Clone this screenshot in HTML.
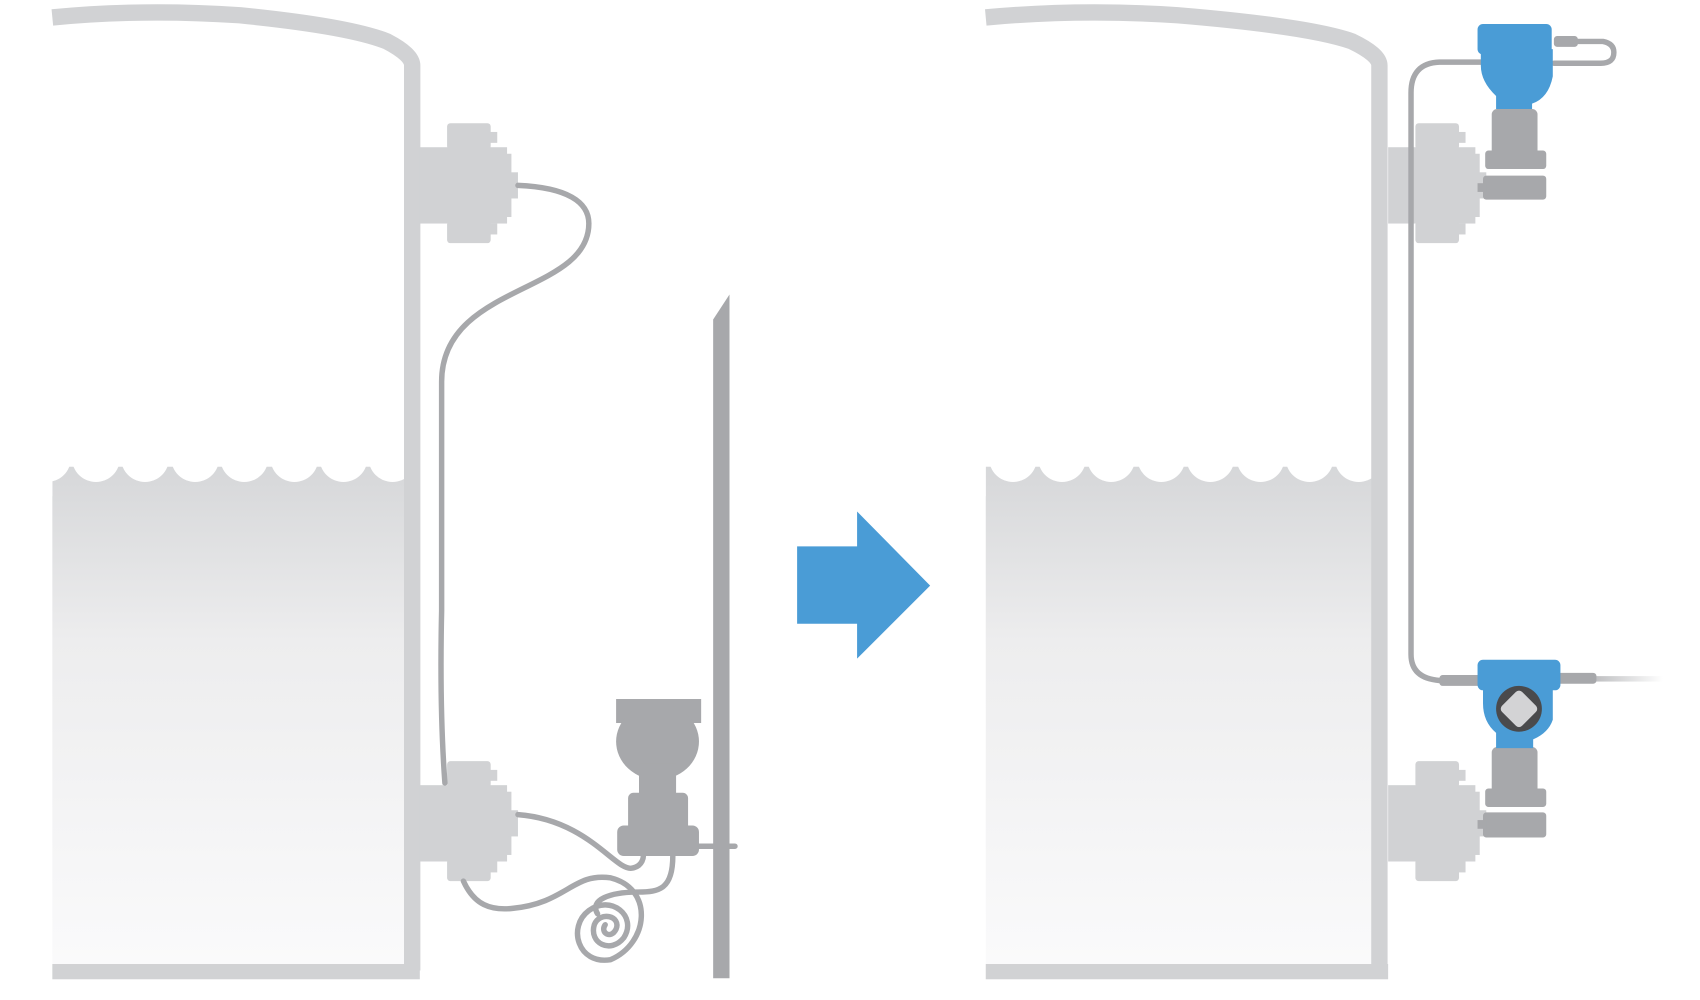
<!DOCTYPE html>
<html><head><meta charset="utf-8"><style>html,body{margin:0;padding:0;background:#fff}svg{display:block}</style></head>
<body>
<svg width="1700" height="1000" viewBox="0 0 1559 917" preserveAspectRatio="none" xmlns="http://www.w3.org/2000/svg">
<defs>
<linearGradient id="liq" x1="0" y1="0" x2="0" y2="1">
<stop offset="0" stop-color="#d6d7d9"/><stop offset="0.35" stop-color="#ededee"/><stop offset="1" stop-color="#fafafb"/>
</linearGradient>
<linearGradient id="fade" x1="0" y1="0" x2="1" y2="0">
<stop offset="0" stop-color="#a7a8ab"/><stop offset="1" stop-color="#a7a8ab" stop-opacity="0"/>
</linearGradient>
<g id="waves" fill="#fff">
<circle cx="43" cy="420" r="22"/><circle cx="88" cy="420" r="22"/><circle cx="133" cy="420" r="22"/><circle cx="179" cy="420" r="22"/><circle cx="224" cy="420" r="22"/><circle cx="270" cy="420" r="22"/><circle cx="315" cy="420" r="22"/><circle cx="360" cy="420" r="22"/><circle cx="405" cy="420" r="22"/>
</g>
<g id="fl" fill="#d1d2d4">
<rect x="0" y="22" width="80" height="70"/>
<rect x="25" y="0" width="40" height="24" rx="3"/>
<rect x="63" y="8" width="8" height="10"/>
<rect x="25" y="90" width="40" height="20" rx="3"/>
<rect x="63" y="92" width="8" height="10"/>
<rect x="78" y="28" width="6" height="58"/>
<rect x="80" y="45" width="10" height="24"/>
</g>
</defs>

<!-- LEFT TANK -->
<rect x="48" y="428" width="323" height="456" fill="url(#liq)"/>
<use href="#waves"/>
<rect x="20" y="395" width="28" height="60" fill="#fff"/>
<rect x="371" y="395" width="40" height="60" fill="#fff"/>
<path d="M48 16 Q130 8 220 14 Q320 24 355 38 Q378 50 378 60 L378 890" fill="none" stroke="#d1d2d4" stroke-width="15"/>
<rect x="48" y="884" width="337" height="14" fill="#d1d2d4"/>
<use href="#fl" x="385" y="113"/>
<use href="#fl" x="385" y="698"/>
<g fill="none" stroke="#a7a8ab" stroke-width="5" stroke-linecap="round">
<path d="M475 170 C520 172 540 185 540 205 C540 270 405 260 405 350 L405 560 Q403 650 408 718"/>
<path d="M475 747 C540 752 565 800 580 796 C590 794 590 785 590 785"/>
<path d="M425 808 C435 830 450 835 470 833 C520 828 525 800 560 805 C600 815 595 865 560 880 C530 885 520 850 540 835 C560 820 585 840 572 860 C560 875 540 865 545 848 C550 835 570 840 565 852 C560 862 550 855 555 848"/>
<path d="M617 785 C617 815 605 818 585 818 C560 818 540 825 548 838"/>
<path d="M640 776 L674 776"/>
</g>
<g fill="#a7a8ab">
<rect x="565" y="641" width="78" height="22"/>
<ellipse cx="603" cy="680" rx="38" ry="35"/>
<rect x="586" y="700" width="34" height="30"/>
<rect x="576" y="727" width="55" height="40" rx="5"/>
<rect x="566" y="757" width="75" height="28" rx="6"/>
<polygon points="654,293 669,270 669,897 654,897"/>
</g>

<!-- ARROW -->
<polygon points="731,501 786,501 786,469 853,537 786,604 786,572 731,572" fill="#4a9cd6"/>

<!-- RIGHT TANK -->
<rect x="904" y="428" width="356" height="456" fill="url(#liq)"/>
<use href="#waves" x="886"/>
<rect x="876" y="395" width="28" height="60" fill="#fff"/>
<rect x="1259" y="395" width="40" height="60" fill="#fff"/>
<path d="M904 16 Q990 8 1080 14 Q1200 24 1240 38 Q1265 50 1265 60 L1265 890" fill="none" stroke="#d1d2d4" stroke-width="15"/>
<rect x="904" y="884" width="369" height="14" fill="#d1d2d4"/>
<use href="#fl" x="1273" y="113"/>
<use href="#fl" x="1273" y="698"/>
<g fill="none" stroke="#a7a8ab" stroke-width="5" stroke-linecap="round">
<path d="M1358 57 L1320 57 Q1294 58 1294 85 L1294 600 Q1294 622 1320 624 L1345 624"/>
<path d="M1440 38 L1470 38 Q1480 40 1480 48 Q1480 58 1468 58 L1425 58"/>
</g>
<rect x="1440" y="620" width="85" height="5" fill="url(#fade)"/>
<g fill="#a7a8ab">
<rect x="1425" y="33" width="22" height="10" rx="3"/>
<rect x="1320" y="619" width="38" height="10" rx="3"/>
<rect x="1428" y="617" width="36" height="10" rx="3"/>
<rect x="1368" y="100" width="42" height="45" rx="5"/>
<rect x="1362" y="138" width="56" height="17" rx="3"/>
<rect x="1360" y="161" width="58" height="22" rx="3"/>
<rect x="1355" y="168" width="8" height="8"/>
<rect x="1368" y="685" width="42" height="45" rx="5"/>
<rect x="1362" y="723" width="56" height="17" rx="3"/>
<rect x="1360" y="745" width="58" height="23" rx="3"/>
<rect x="1355" y="752" width="8" height="8"/>
</g>
<g fill="#4a9cd6">
<rect x="1355" y="22" width="68" height="28" rx="5"/>
<path d="M1358 45 L1424 45 L1424 70 Q1420 90 1405 95 L1405 100 L1372 100 L1372 88 Q1358 75 1358 60 Z"/>
<rect x="1355" y="605" width="76" height="28" rx="5"/>
<path d="M1360 628 L1424 628 L1424 660 Q1420 672 1406 678 L1406 686 L1372 686 L1372 672 Q1360 662 1360 645 Z"/>
</g>
<circle cx="1393" cy="650" r="21" fill="#4a4a4c"/>
<rect x="1380" y="637" width="26" height="26" rx="4" fill="#d3d3d5" transform="rotate(45 1393 650)"/>
</svg>
</body></html>
